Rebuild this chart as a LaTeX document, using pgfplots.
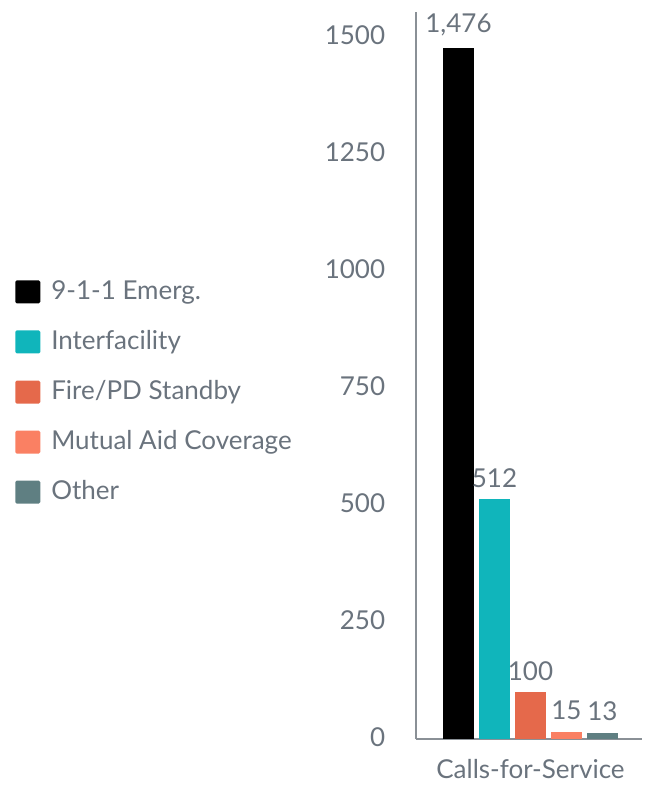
\documentclass[border=0pt]{standalone}
\usepackage{pgfplots}
\pgfplotsset{compat=1.18}
\usepackage{fontspec}
\setmainfont{Lato}
\definecolor{txt}{HTML}{6A737D}
\definecolor{axc}{HTML}{8A9096}
\definecolor{cA}{HTML}{000000}
\definecolor{cB}{HTML}{10B5BB}
\definecolor{cC}{HTML}{E5694B}
\definecolor{cD}{HTML}{FA8063}
\definecolor{cE}{HTML}{5F7F82}
\begin{document}
\fontsize{26bp}{30bp}\selectfont
\begin{tikzpicture}
\path[use as bounding box] (-416bp,-46bp) rectangle (234bp,739bp);
\begin{axis}[
  scale only axis,
  width=226bp, height=727bp,
  xmin=-114.5, xmax=111.5,
  ymin=0, ymax=1553,
  axis lines*=left,
  axis line style={axc, line width=1.5bp},
  ybar=5bp, bar width=31bp,
  xtick={0}, xticklabels={Calls-for-Service},
  ytick={0,250,500,750,1000,1250,1500},
  major tick length=0pt,
  tick style={draw=none},
  ticklabel style={text=txt, font=\fontsize{26bp}{30bp}\selectfont},
  /pgf/number format/assume math mode=true,
  yticklabel style={/pgf/number format/1000 sep={}, xshift=-22bp, yshift=1.5bp},
  xticklabel style={inner sep=0pt, yshift=-20bp},
  nodes near coords,
  nodes near coords style={text=txt, font=\fontsize{26bp}{30bp}\selectfont, yshift=3bp, /pgf/number format/assume math mode=true, /pgf/number format/1000 sep={,}},
  legend style={at={(-1.774,0.631)}, anchor=north west, draw=none, fill=none,
    font=\fontsize{26bp}{30bp}\selectfont, text=txt, row sep=27bp, column sep=11bp, inner sep=0pt,
    nodes={inner sep=0pt}, cells={anchor=west}},
  legend image code/.code={\fill[#1,draw=none,rounded corners=1.5bp] (0bp,-11.5bp) rectangle (25bp,11.5bp);},
]
\addplot[fill=cA, draw=none] coordinates {(0,1476)};
\addplot[fill=cB, draw=none] coordinates {(0,512)};
\addplot[fill=cC, draw=none] coordinates {(0,100)};
\addplot[fill=cD, draw=none] coordinates {(0,15)};
\addplot[fill=cE, draw=none] coordinates {(0,13)};
\legend{9-1-1 Emerg., Interfacility, Fire/PD Standby, Mutual Aid Coverage, Other}
\end{axis}
\end{tikzpicture}
\end{document}
